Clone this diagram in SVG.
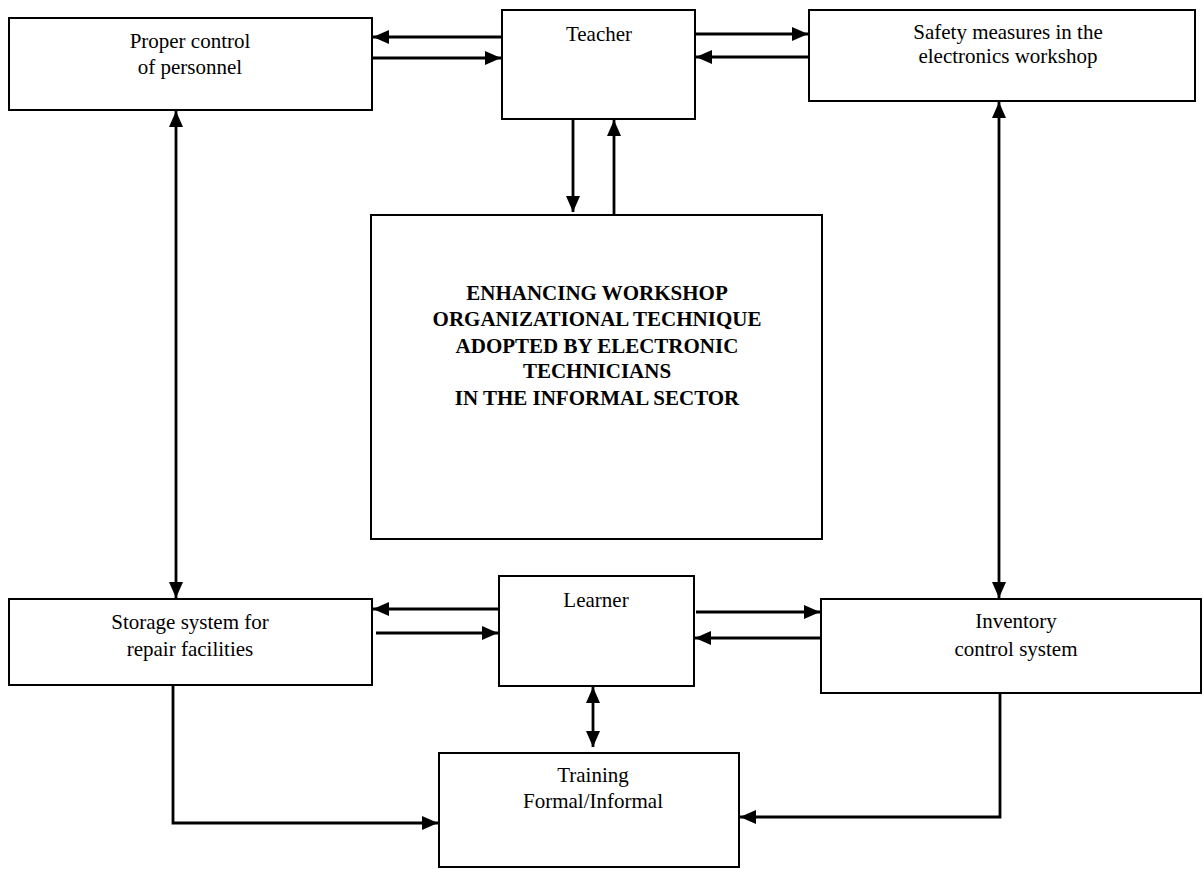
<svg xmlns="http://www.w3.org/2000/svg" width="1203" height="869" viewBox="0 0 1203 869">
<style>
.box{fill:#fff;stroke:#000;stroke-width:2}
.lbl{font-family:"Liberation Serif","Times New Roman",serif;font-size:21px;fill:#000;text-anchor:middle}
.bold{font-weight:bold}
.con{fill:none;stroke:#000;stroke-width:2.8}
</style>
<defs>
<marker id="ah" viewBox="0 0 16 14" refX="16" refY="7" markerWidth="16" markerHeight="14" markerUnits="userSpaceOnUse" orient="auto-start-reverse">
<path d="M0,0 L16,7 L0,14 Z" fill="#000"/>
</marker>
</defs>
<rect width="1203" height="869" fill="#fff"/>
<g id="connectors">
<path class="con" d="M502,37 H373" marker-end="url(#ah)"/>
<path class="con" d="M372,58 H501" marker-end="url(#ah)"/>
<path class="con" d="M695,34 H808" marker-end="url(#ah)"/>
<path class="con" d="M809,57 H696" marker-end="url(#ah)"/>
<path class="con" d="M573,119 V212" marker-end="url(#ah)"/>
<path class="con" d="M614,215 V120" marker-end="url(#ah)"/>
<path class="con" d="M176,111 V598" marker-start="url(#ah)" marker-end="url(#ah)"/>
<path class="con" d="M999,102 V598" marker-start="url(#ah)" marker-end="url(#ah)"/>
<path class="con" d="M499,609 H373" marker-end="url(#ah)"/>
<path class="con" d="M376,633 H498" marker-end="url(#ah)"/>
<path class="con" d="M696,612 H820" marker-end="url(#ah)"/>
<path class="con" d="M821,638 H695" marker-end="url(#ah)"/>
<path class="con" d="M593,687 V747" marker-start="url(#ah)" marker-end="url(#ah)"/>
<path class="con" d="M173,685 V823 H438" marker-end="url(#ah)"/>
<path class="con" d="M1000,693 V817 H740" marker-end="url(#ah)"/>
</g>
<g id="proper-control">
<rect class="box" x="9" y="18" width="363" height="92"/>
<text class="lbl" x="190" y="48">Proper control</text>
<text class="lbl" x="190" y="74">of personnel</text>
</g>
<g id="teacher">
<rect class="box" x="502" y="10" width="193" height="109"/>
<text class="lbl" x="599" y="41">Teacher</text>
</g>
<g id="safety">
<rect class="box" x="809" y="10" width="386" height="91"/>
<text class="lbl" x="1008" y="39">Safety measures in the</text>
<text class="lbl" x="1008" y="63">electronics workshop</text>
</g>
<g id="main">
<rect class="box" x="371" y="215" width="451" height="324"/>
<text class="lbl bold" x="597" y="300">ENHANCING WORKSHOP</text>
<text class="lbl bold" x="597" y="326">ORGANIZATIONAL TECHNIQUE</text>
<text class="lbl bold" x="597" y="353">ADOPTED BY ELECTRONIC</text>
<text class="lbl bold" x="597" y="378">TECHNICIANS</text>
<text class="lbl bold" x="597" y="405">IN THE INFORMAL SECTOR</text>
</g>
<g id="storage">
<rect class="box" x="9" y="599" width="363" height="86"/>
<text class="lbl" x="190" y="629">Storage system for</text>
<text class="lbl" x="190" y="656">repair facilities</text>
</g>
<g id="learner">
<rect class="box" x="499" y="576" width="195" height="110"/>
<text class="lbl" x="596" y="607">Learner</text>
</g>
<g id="inventory">
<rect class="box" x="821" y="599" width="380" height="94"/>
<text class="lbl" x="1016" y="628">Inventory</text>
<text class="lbl" x="1016" y="656">control system</text>
</g>
<g id="training">
<rect class="box" x="439" y="753" width="300" height="114"/>
<text class="lbl" x="593" y="782">Training</text>
<text class="lbl" x="593" y="808">Formal/Informal</text>
</g>
</svg>
